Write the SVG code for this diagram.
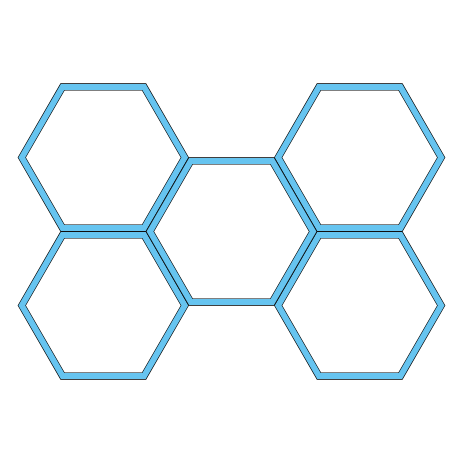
<svg xmlns="http://www.w3.org/2000/svg" xmlns:xlink="http://www.w3.org/1999/xlink" width="463" height="463" viewBox="0 0 463 463">
  <style>
    .edge { fill: none; stroke: #000000; stroke-width: 7.2; stroke-linejoin: miter; }
    .band { fill: none; stroke: #66c4f0; stroke-width: 6; stroke-linejoin: miter; }
  </style>
  <defs>
    <polygon id="hex" points="81.5,0 40.75,70.58 -40.75,70.58 -81.5,0 -40.75,-70.58 40.75,-70.58"/>
  </defs>
  <rect width="463" height="463" fill="#ffffff"/>
  <g id="hex-top-left" transform="translate(103.3,157.5)">
    <use href="#hex" xlink:href="#hex" class="edge"/>
    <use href="#hex" xlink:href="#hex" class="band"/>
  </g>
  <g id="hex-top-right" transform="translate(359.7,157.5)">
    <use href="#hex" xlink:href="#hex" class="edge"/>
    <use href="#hex" xlink:href="#hex" class="band"/>
  </g>
  <g id="hex-bottom-left" transform="translate(103.3,305.5)">
    <use href="#hex" xlink:href="#hex" class="edge"/>
    <use href="#hex" xlink:href="#hex" class="band"/>
  </g>
  <g id="hex-bottom-right" transform="translate(359.7,305.5)">
    <use href="#hex" xlink:href="#hex" class="edge"/>
    <use href="#hex" xlink:href="#hex" class="band"/>
  </g>
  <g id="hex-middle" transform="translate(231.5,231.5)">
    <use href="#hex" xlink:href="#hex" class="edge"/>
    <use href="#hex" xlink:href="#hex" class="band"/>
  </g>
  <g id="connectors"></g>
</svg>
